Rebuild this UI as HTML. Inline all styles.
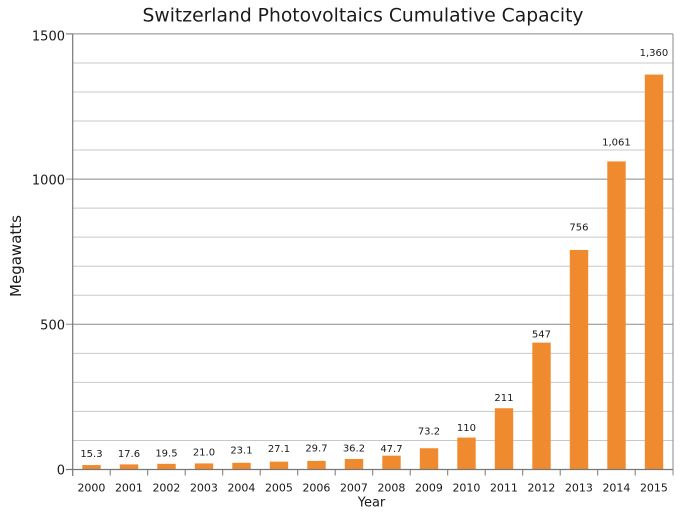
<!DOCTYPE html>
<html><head><meta charset="utf-8"><style>
html,body{margin:0;padding:0;background:#fff;}
svg{display:block;}
text{font-family:"DejaVu Sans","Liberation Sans",sans-serif;fill:#1a1a1a;}
</style></head><body>
<svg width="683" height="512" viewBox="0 0 683 512" xmlns="http://www.w3.org/2000/svg">
<rect width="683" height="512" fill="#fff"/>
<g stroke="#c8c8c8" stroke-width="1">
<line x1="72.7" x2="673" y1="440.46" y2="440.46"/>
<line x1="72.7" x2="673" y1="411.42" y2="411.42"/>
<line x1="72.7" x2="673" y1="382.38" y2="382.38"/>
<line x1="72.7" x2="673" y1="353.34" y2="353.34"/>
<line x1="72.7" x2="673" y1="295.26" y2="295.26"/>
<line x1="72.7" x2="673" y1="266.22" y2="266.22"/>
<line x1="72.7" x2="673" y1="237.18" y2="237.18"/>
<line x1="72.7" x2="673" y1="208.14" y2="208.14"/>
<line x1="72.7" x2="673" y1="150.06" y2="150.06"/>
<line x1="72.7" x2="673" y1="121.02" y2="121.02"/>
<line x1="72.7" x2="673" y1="91.98" y2="91.98"/>
<line x1="72.7" x2="673" y1="62.94" y2="62.94"/>
</g>
<g stroke="#8a8a8a" stroke-width="1">
<line x1="66" x2="673" y1="324.3" y2="324.3"/>
<line x1="66" x2="673" y1="179.1" y2="179.1"/>
<line x1="66" x2="673" y1="33.9" y2="33.9"/>
<line x1="673" x2="673" y1="33.9" y2="475.5"/>
</g>
<g fill="#ef8a2e">
<rect x="82.3" y="465.06" width="18.4" height="4.44"/>
<rect x="119.8" y="464.39" width="18.4" height="5.11"/>
<rect x="157.3" y="463.84" width="18.4" height="5.66"/>
<rect x="194.8" y="463.40" width="18.4" height="6.10"/>
<rect x="232.3" y="462.79" width="18.4" height="6.71"/>
<rect x="269.8" y="461.63" width="18.4" height="7.87"/>
<rect x="307.3" y="460.88" width="18.4" height="8.62"/>
<rect x="344.8" y="458.99" width="18.4" height="10.51"/>
<rect x="382.3" y="455.65" width="18.4" height="13.85"/>
<rect x="419.8" y="448.24" width="18.4" height="21.26"/>
<rect x="457.3" y="437.56" width="18.4" height="31.94"/>
<rect x="494.8" y="408.23" width="18.4" height="61.27"/>
<rect x="532.3" y="342.6" width="18.4" height="126.9"/>
<rect x="569.8" y="249.96" width="18.4" height="219.54"/>
<rect x="607.3" y="161.39" width="18.4" height="308.11"/>
<rect x="644.8" y="74.56" width="18.4" height="394.94"/>
</g>
<g stroke="#777" stroke-width="1.2">
<line x1="72.7" x2="72.7" y1="33.9" y2="476"/>
<line x1="66" x2="673" y1="469.5" y2="469.5"/>
</g>
<g stroke="#777" stroke-width="1">
<line x1="66" x2="72.7" y1="33.9" y2="33.9"/>
<line x1="110.2" x2="110.2" y1="469.5" y2="475.5"/>
<line x1="147.7" x2="147.7" y1="469.5" y2="475.5"/>
<line x1="185.2" x2="185.2" y1="469.5" y2="475.5"/>
<line x1="222.7" x2="222.7" y1="469.5" y2="475.5"/>
<line x1="260.2" x2="260.2" y1="469.5" y2="475.5"/>
<line x1="297.7" x2="297.7" y1="469.5" y2="475.5"/>
<line x1="335.2" x2="335.2" y1="469.5" y2="475.5"/>
<line x1="372.7" x2="372.7" y1="469.5" y2="475.5"/>
<line x1="410.2" x2="410.2" y1="469.5" y2="475.5"/>
<line x1="447.7" x2="447.7" y1="469.5" y2="475.5"/>
<line x1="485.2" x2="485.2" y1="469.5" y2="475.5"/>
<line x1="522.7" x2="522.7" y1="469.5" y2="475.5"/>
<line x1="560.2" x2="560.2" y1="469.5" y2="475.5"/>
<line x1="597.7" x2="597.7" y1="469.5" y2="475.5"/>
<line x1="635.2" x2="635.2" y1="469.5" y2="475.5"/>
</g>
<text x="363" y="21.7" font-size="18.4" text-anchor="middle" textLength="441" lengthAdjust="spacingAndGlyphs">Switzerland Photovoltaics Cumulative Capacity</text>
<g font-size="13" text-anchor="end">
<text x="65" y="40.4">1500</text>
<text x="65" y="184.7">1000</text>
<text x="65" y="329.7">500</text>
<text x="65" y="474.7">0</text>
</g>
<text transform="translate(21,256) rotate(-90)" font-size="15" text-anchor="middle">Megawatts</text>
<text x="371.5" y="506.7" font-size="13" text-anchor="middle">Year</text>
<g font-size="11" text-anchor="middle">
<text x="91.45" y="491.3">2000</text>
<text x="128.95" y="491.3">2001</text>
<text x="166.45" y="491.3">2002</text>
<text x="203.95" y="491.3">2003</text>
<text x="241.45" y="491.3">2004</text>
<text x="278.95" y="491.3">2005</text>
<text x="316.45" y="491.3">2006</text>
<text x="353.95" y="491.3">2007</text>
<text x="391.45" y="491.3">2008</text>
<text x="428.95" y="491.3">2009</text>
<text x="466.45" y="491.3">2010</text>
<text x="503.95" y="491.3">2011</text>
<text x="541.45" y="491.3">2012</text>
<text x="578.95" y="491.3">2013</text>
<text x="616.45" y="491.3">2014</text>
<text x="653.95" y="491.3">2015</text>
</g>
<g font-size="10" text-anchor="middle" style="fill:#222">
<text x="91.45" y="456.9">15.3</text>
<text x="128.95" y="456.9">17.6</text>
<text x="166.45" y="456.3">19.5</text>
<text x="203.95" y="455.3">21.0</text>
<text x="241.45" y="453.6">23.1</text>
<text x="278.95" y="451.9">27.1</text>
<text x="316.45" y="451.6">29.7</text>
<text x="353.95" y="451.6">36.2</text>
<text x="391.45" y="451.9">47.7</text>
<text x="428.95" y="434.6">73.2</text>
<text x="466.45" y="430.9">110</text>
<text x="503.95" y="400.9">211</text>
<text x="541.45" y="337.3">547</text>
<text x="578.95" y="230.3">756</text>
<text x="616.45" y="145.3">1,061</text>
<text x="653.95" y="55.9">1,360</text>
</g>
</svg>
</body></html>
